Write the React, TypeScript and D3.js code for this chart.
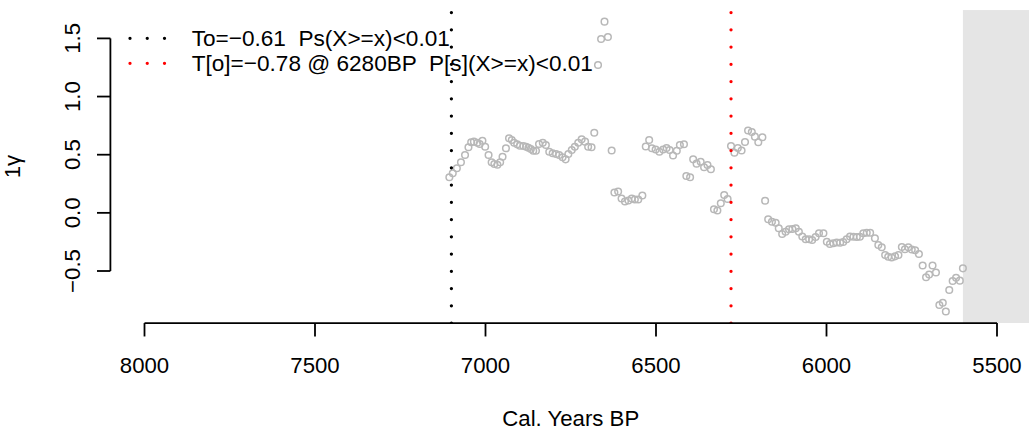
import React from "react";
import * as d3 from "d3";

const years = [
  7106, 7096, 7084, 7072, 7060, 7050, 7042, 7034, 7024, 7017, 7009, 7001, 6991, 6982, 6974, 6965,
  6957, 6950, 6940, 6931, 6923, 6916, 6907, 6899, 6889, 6881, 6874, 6867, 6860, 6852, 6843, 6832,
  6823, 6813, 6803, 6793, 6784, 6774, 6765, 6757, 6747, 6738, 6728, 6718, 6708, 6699, 6689, 6681,
  6670, 6661, 6651, 6641, 6630, 6622, 6611, 6601, 6591, 6581, 6571, 6562, 6552, 6540, 6530, 6520,
  6512, 6501, 6490, 6479, 6469, 6460, 6450, 6439, 6430, 6418, 6411, 6400, 6391, 6381, 6369, 6359,
  6349, 6339, 6330, 6320, 6310, 6300, 6290, 6280, 6270, 6260, 6249, 6239, 6230, 6219, 6210, 6200,
  6188, 6180, 6171, 6160, 6149, 6140, 6130, 6120, 6110, 6100, 6090, 6081, 6071, 6061, 6051, 6042,
  6032, 6022, 6009, 5999, 5990, 5980, 5970, 5960, 5951, 5941, 5931, 5921, 5911, 5902, 5892, 5882,
  5872, 5858, 5848, 5838, 5828, 5819, 5809, 5799, 5789, 5779, 5770, 5760, 5750, 5740, 5729, 5718,
  5708, 5699, 5689, 5679, 5669, 5659, 5650, 5640, 5630, 5620, 5609, 5600,
];

const gammaValues = [
  0.306, 0.34, 0.383, 0.435, 0.497, 0.564, 0.607, 0.612, 0.603, 0.592, 0.62, 0.569, 0.497, 0.435, 0.42, 0.414,
  0.435, 0.483, 0.555, 0.641, 0.626, 0.603, 0.589, 0.577, 0.575, 0.569, 0.56, 0.549, 0.534, 0.534, 0.592, 0.603,
  0.583, 0.526, 0.512, 0.506, 0.497, 0.478, 0.46, 0.506, 0.54, 0.569, 0.603, 0.632, 0.612, 0.569, 0.564, 0.689,
  1.271, 1.495, 1.644, 1.512, 0.536, 0.175, 0.184, 0.123, 0.098, 0.106, 0.123, 0.115, 0.115, 0.149, 0.571, 0.626,
  0.555, 0.545, 0.526, 0.545, 0.558, 0.54, 0.493, 0.534, 0.583, 0.59, 0.317, 0.306, 0.46, 0.423, 0.44, 0.392,
  0.411, 0.375, 0.031, 0.02, 0.082, 0.153, 0.119, 0.575, 0.517, 0.558, 0.536, 0.609, 0.708, 0.695, 0.655, 0.607,
  0.65, 0.104, -0.055, -0.076, -0.085, -0.133, -0.182, -0.162, -0.141, -0.139, -0.133, -0.162, -0.203, -0.227, -0.227, -0.233,
  -0.208, -0.176, -0.176, -0.248, -0.268, -0.262, -0.255, -0.257, -0.251, -0.227, -0.203, -0.205, -0.208, -0.205, -0.176, -0.171,
  -0.171, -0.219, -0.276, -0.296, -0.362, -0.377, -0.384, -0.374, -0.362, -0.294, -0.313, -0.296, -0.315, -0.322, -0.354, -0.453,
  -0.554, -0.53, -0.453, -0.513, -0.792, -0.773, -0.848, -0.663, -0.586, -0.558, -0.583, -0.477,
];

const xTicks = [8000, 7500, 7000, 6500, 6000, 5500];
const yTicks = [-0.5, 0.0, 0.5, 1.0, 1.5];
const xLimits = [8000, 5500];
const thresholdYears = [7100, 6280];
const thresholdColors = ["#000000", "#ff0000"];
const legendLabels = [
  "To=\u22120.61  Ps(X>=x)<0.01",
  "T[o]=\u22120.78 @ 6280BP  P[s](X>=x)<0.01",
];
const shadeFrom = 5600;

const fmtY = (v: number) => (v < 0 ? "\u2212" : "") + Math.abs(v).toFixed(1);

export default function App() {
  const W = 1029;
  const H = 433;
  const font = "'Liberation Sans', Arial, Helvetica, sans-serif";
  const fs = 22.2;
  const fsLegend = 22.6;

  const x = d3.scaleLinear().domain(xLimits).range([144.5, 997]);
  const y = d3.scaleLinear().domain([-0.5, 1.5]).range([271, 38.4]);

  const span = xLimits[0] - xLimits[1];
  const pxLeft = x(xLimits[0] + 0.04 * span);
  const pxRight = x(xLimits[1] - 0.04 * span);
  const [ymin, ymax] = d3.extent(gammaValues) as [number, number];
  const yr = ymax - ymin;
  const pyTop = y(ymax + 0.04 * yr);
  const pyBottom = y(ymin - 0.04 * yr);

  const pts = years.map((yy, i) => ({ yy, v: gammaValues[i] }));
  const axisW = 1.8;

  return (
    <svg
      width={W}
      height={H}
      style={{ position: "absolute", left: 0, top: 0, background: "#fff" }}
      fontFamily={font}
    >
      <defs>
        <clipPath id="plotClip">
          <rect x={pxLeft} y={pyTop} width={pxRight - pxLeft} height={pyBottom - pyTop} />
        </clipPath>
      </defs>
      <g clipPath="url(#plotClip)">
        <rect
          x={x(shadeFrom)}
          y={pyTop}
          width={pxRight - x(shadeFrom)}
          height={pyBottom - pyTop}
          fill="#e5e5e5"
        />
        {pts.map((p, i) => (
          <circle
            key={i}
            cx={x(p.yy)}
            cy={y(p.v)}
            r={3.3}
            fill="none"
            stroke="#b8b8b8"
            strokeWidth={1.5}
          />
        ))}
        {thresholdYears.map((t, i) => (
          <line
            key={i}
            x1={x(t)}
            x2={x(t)}
            y1={pyBottom}
            y2={pyTop}
            stroke={thresholdColors[i]}
            strokeWidth={3.3}
            strokeLinecap="round"
            strokeDasharray="0 17.25"
          />
        ))}
      </g>

      {/* legend */}
      {legendLabels.map((lab, i) => (
        <g key={i}>
          <line
            x1={130}
            x2={165}
            y1={38.3 + i * 25}
            y2={38.3 + i * 25}
            stroke={thresholdColors[i]}
            strokeWidth={3.3}
            strokeLinecap="round"
            strokeDasharray="0 17.25"
          />
          <text x={191.7} y={46.3 + i * 25} fontSize={fsLegend} fill="#000" style={{ whiteSpace: "pre" }}>
            {lab}
          </text>
        </g>
      ))}

      {/* x axis */}
      <line x1={x(xTicks[0])} x2={x(xTicks[xTicks.length - 1])} y1={pyBottom} y2={pyBottom} stroke="#000" strokeWidth={axisW} />
      {xTicks.map((t) => (
        <g key={t}>
          <line x1={x(t)} x2={x(t)} y1={pyBottom} y2={pyBottom + 13.4} stroke="#000" strokeWidth={axisW} />
          <text x={x(t)} y={373.3} textAnchor="middle" fontSize={fs}>
            {t}
          </text>
        </g>
      ))}
      <text x={(pxLeft + pxRight) / 2} y={426} textAnchor="middle" fontSize={fs}>
        Cal. Years BP
      </text>

      {/* y axis */}
      <line x1={pxLeft} x2={pxLeft} y1={y(yTicks[0])} y2={y(yTicks[yTicks.length - 1])} stroke="#000" strokeWidth={axisW} />
      {yTicks.map((t) => (
        <g key={t}>
          <line x1={pxLeft - 13.4} x2={pxLeft} y1={y(t)} y2={y(t)} stroke="#000" strokeWidth={axisW} />
          <text
            transform={`translate(80,${y(t)}) rotate(-90)`}
            textAnchor="middle"
            fontSize={fs}
          >
            {fmtY(t)}
          </text>
        </g>
      ))}
      <text
        transform={`translate(20,${(pyTop + pyBottom) / 2}) rotate(-90)`}
        textAnchor="middle"
        fontSize={fs}
      >
        1γ
      </text>
    </svg>
  );
}
